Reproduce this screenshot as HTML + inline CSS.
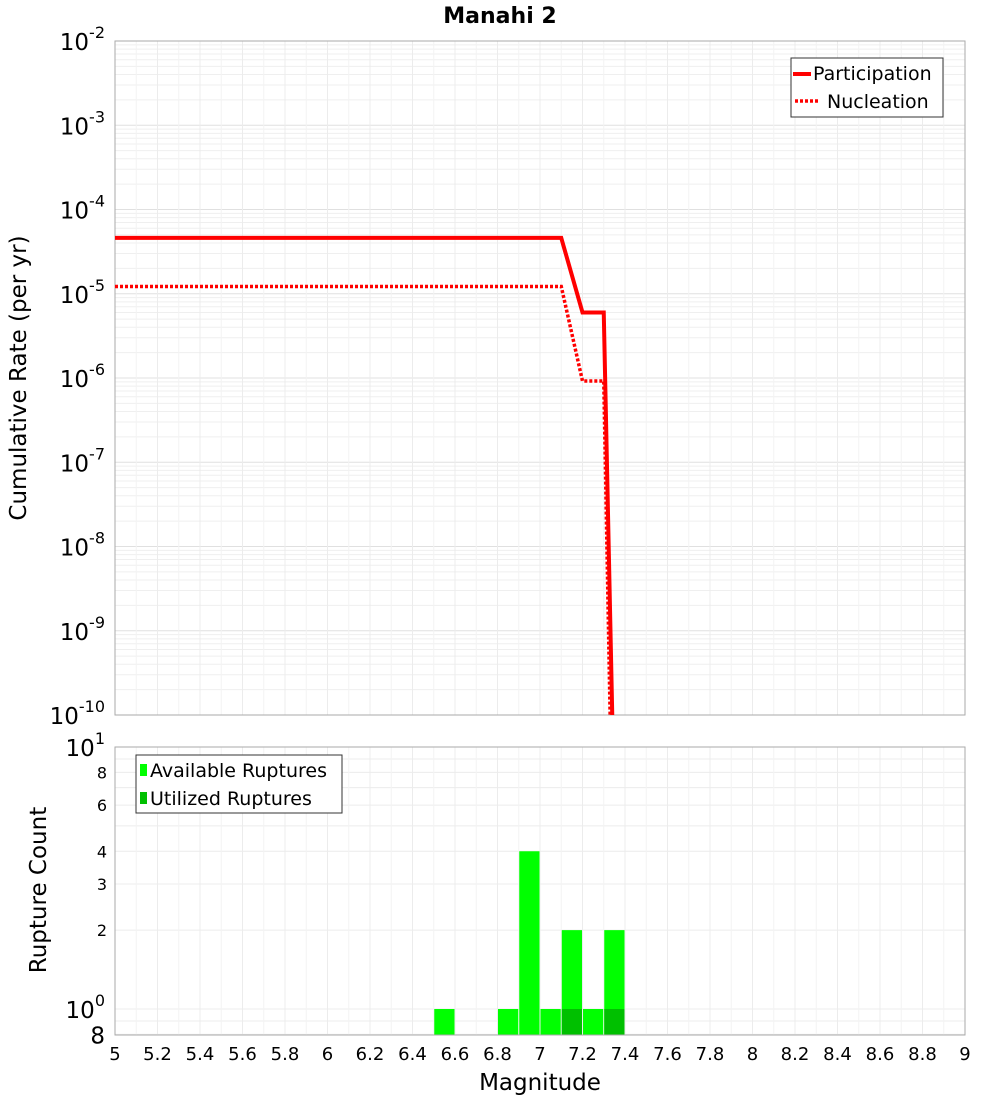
<!DOCTYPE html>
<html><head><meta charset="utf-8"><style>
body{margin:0;background:#fff;}
svg{display:block;font-family:"DejaVu Sans","Liberation Sans",sans-serif;}
</style></head><body>
<svg id="c" width="1000" height="1100" xmlns="http://www.w3.org/2000/svg"></svg>
<script>
const partMags=[5,7.1,7.2,7.3,7.34];
const partRates=[4.6e-5,4.6e-5,6.0e-6,6.0e-6,1e-10];
const nuclMags=[5,7.1,7.2,7.3,7.33];
const nuclRates=[1.22e-5,1.22e-5,9.2e-7,9.2e-7,1e-10];
const binMags=[6.55,6.85,6.95,7.05,7.15,7.25,7.35];
const availCounts=[1,1,4,1,2,1,2];
const usedCounts=[0,0,0,0,1,0,1];
const xTicks=[5,5.2,5.4,5.6,5.8,6,6.2,6.4,6.6,6.8,7,7.2,7.4,7.6,7.8,8,8.2,8.4,8.6,8.8,9];
const xTickLabels=["5","5.2","5.4","5.6","5.8","6","6.2","6.4","6.6","6.8","7","7.2","7.4","7.6","7.8","8","8.2","8.4","8.6","8.8","9"];
const topExps=[-2,-3,-4,-5,-6,-7,-8,-9,-10];
const botTicks=[0.8,1,2,3,4,6,8,10];

const NS="http://www.w3.org/2000/svg";
const svg=document.getElementById('c');
function el(t,a,p){const e=document.createElementNS(NS,t);for(const k in a)e.setAttribute(k,a[k]);(p||svg).appendChild(e);return e;}
const X0=115,X1=965;
const xs=m=>X0+(m-5)/4*(X1-X0);
const T0=41,T1=715;
const ty=r=>T0+(-2-Math.log10(r))/8*(T1-T0);
const B0=747,B1=1035;
const by=v=>1009-Math.log10(v)*262;

const ti=el('text',{x:500,y:23,'text-anchor':'middle','font-size':22,'font-weight':'bold'});
ti.textContent='Manahi 2';

const tg=el('g',{});

for(let e=-10;e<-2;e++)for(let k=1;k<10;k++){const y=ty(k*Math.pow(10,e));el('line',{x1:X0,x2:X1,y1:y,y2:y,stroke:k==1?'#e0e0e0':'#efefef','stroke-width':1},tg);}
xTicks.forEach(m=>{el('line',{x1:xs(m),x2:xs(m),y1:T0,y2:T1,stroke:'#ececec'},tg);if(m<9)el('line',{x1:xs(m)+21.25,x2:xs(m)+21.25,y1:T0,y2:T1,stroke:'#f3f3f3'},tg);});
const tf=el('rect',{x:X0,y:T0,width:X1-X0,height:T1-T0,fill:'none',stroke:'#aaa'});


topExps.forEach(e=>{const y=ty(Math.pow(10,e));const t=el('text',{x:105,y:y+9,'text-anchor':'end','font-size':23});

t.innerHTML='10<tspan dy="-12" font-size="16">'+e+'</tspan>';});
const yl=el('text',{x:0,y:0,transform:'translate(26,378) rotate(-90)','text-anchor':'middle','font-size':23});
yl.textContent='Cumulative Rate (per yr)';

function pts(ms,rs){return ms.map((m,i)=>xs(m)+','+Math.min(ty(rs[i]),T1)).join(' ');}
const pl=el('polyline',{points:pts(partMags,partRates),fill:'none',stroke:'#f00','stroke-width':4});

const nl=el('polyline',{points:pts(nuclMags,nuclRates),fill:'none',stroke:'#f00','stroke-width':3.5,'stroke-dasharray':'3,2'});


const lg=el('g',{});
el('rect',{x:791,y:58,width:152,height:59,fill:'#fff',stroke:'#333'},lg);
el('line',{x1:793,x2:811,y1:74,y2:74,stroke:'#f00','stroke-width':4},lg);
el('line',{x1:795,x2:820,y1:101,y2:101,stroke:'#f00','stroke-width':3.5,'stroke-dasharray':'3,2'},lg);
let t=el('text',{x:813,y:80,'font-size':19},lg);t.textContent='Participation';
t=el('text',{x:827,y:108,'font-size':19},lg);t.textContent='Nucleation';

const bg=el('g',{});
[0.8,0.9,1,2,3,4,5,6,7,8,9,10].forEach(v=>el('line',{x1:X0,x2:X1,y1:by(v),y2:by(v),stroke:'#ececec'},bg));
xTicks.forEach(m=>{el('line',{x1:xs(m),x2:xs(m),y1:B0,y2:B1,stroke:'#ececec'},bg);if(m<9)el('line',{x1:xs(m)+21.25,x2:xs(m)+21.25,y1:B0,y2:B1,stroke:'#f3f3f3'},bg);});

const bw=(X1-X0)/40;
binMags.forEach((m,i)=>{
 const b=el('rect',{x:xs(m)-bw/2+0.5,y:by(availCounts[i]),width:bw-1,height:B1-by(availCounts[i]),fill:'#00ff00'});
 
 if(usedCounts[i]>0){const u=el('rect',{x:xs(m)-bw/2+0.5,y:by(usedCounts[i]),width:bw-1,height:B1-by(usedCounts[i]),fill:'#00c000'});
 }
});
const bf=el('rect',{x:X0,y:B0,width:X1-X0,height:B1-B0,fill:'none',stroke:'#aaa'});


botTicks.forEach(v=>{const y=by(v);let tt;
 if(v==1||v==10){tt=el('text',{x:105,y:y+9,'text-anchor':'end','font-size':23});tt.innerHTML='10<tspan dy="-12" font-size="16">'+(v==1?0:1)+'</tspan>';}
 else if(v==0.8){tt=el('text',{x:105,y:y+9,'text-anchor':'end','font-size':23});tt.textContent='8';}
 else{tt=el('text',{x:107,y:y+6,'text-anchor':'end','font-size':16});tt.textContent=String(v);}
 });
const yl2=el('text',{x:0,y:0,transform:'translate(46,890) rotate(-90)','text-anchor':'middle','font-size':23});
yl2.textContent='Rupture Count';

const lg2=el('g',{});
el('rect',{x:136,y:755,width:206,height:58,fill:'#fff',stroke:'#333'},lg2);
el('rect',{x:140,y:764,width:7,height:12,fill:'#00ff00'},lg2);
el('rect',{x:140,y:792,width:7,height:12,fill:'#00c000'},lg2);
t=el('text',{x:150,y:777,'font-size':19},lg2);t.textContent='Available Ruptures';
t=el('text',{x:150,y:805,'font-size':19},lg2);t.textContent='Utilized Ruptures';

xTicks.forEach((m,i)=>{const tx=el('text',{x:xs(m),y:1060,'text-anchor':'middle','font-size':18});
 tx.textContent=xTickLabels[i];});
const xl=el('text',{x:540,y:1090,'text-anchor':'middle','font-size':23});
xl.textContent='Magnitude';
</script>
</body></html>
